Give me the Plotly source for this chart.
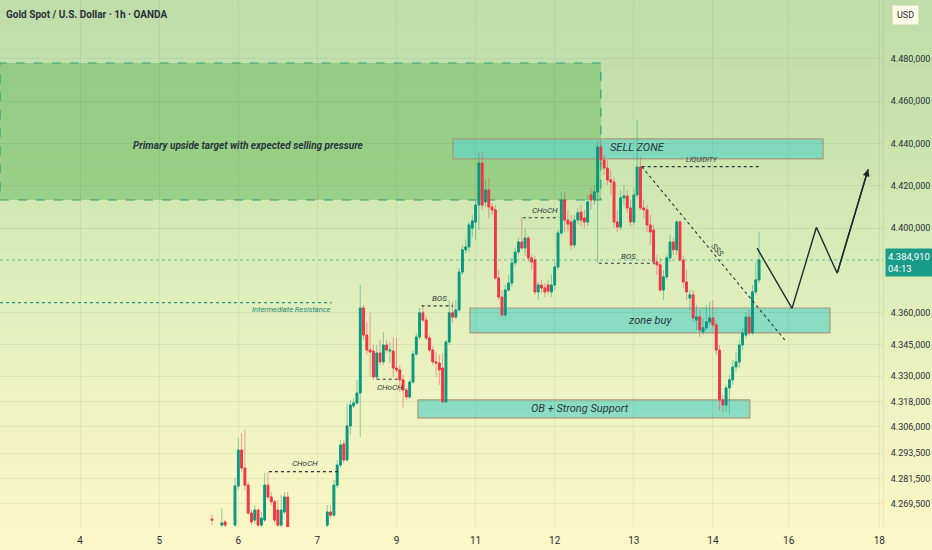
import plotly.graph_objects as go

# ---------------------------------------------------------
# data: XAU/USD 1h candles (hour index, prices)
# ---------------------------------------------------------
CANDLE_START = 40  # hour index of first visible candle (day "4" = hour 0)

opens = [
    4262.3, None, None, 4259.5, 4261.0, None, None, 4259.5, 4278.0, 4295.0,
    4286.5, 4278.4, 4265.2, 4261.9, 4266.6, 4259.5, 4261.9, 4278.4, 4272.8, 4270.5,
    4266.6, 4259.5, 4265.7, 4272.8, None, None, None, None, None, None,
    None, None, None, None, None, 4259.5, 4265.7, 4264.2, 4278.4, 4287.9,
    4297.9, 4290.3, 4306.4, 4315.9, 4317.3, 4322.0, 4362.2, 4349.4, 4342.3, 4341.8,
    4329.6, 4340.9, 4336.7, 4344.7, 4341.8, 4341.8, 4333.8, 4332.9, 4328.2, 4323.4,
    4320.1, 4327.2, 4340.4, 4348.5, 4359.9, 4356.5, 4348.0, 4342.3, 4336.7, 4336.2,
    4333.8, 4317.8, 4346.1, 4359.9, 4357.9, 4361.3, 4379.2, 4389.7, 4391.1, 4400.0,
    4402.9, 4410.9, 4430.8, 4412.4, 4418.0, 4410.0, 4408.6, 4376.4, 4367.4, 4358.9,
    4370.7, 4374.0, 4383.5, 4388.7, 4393.4, 4390.6, 4395.3, 4385.9, 4384.9, 4369.8,
    4373.1, 4371.7, 4373.1, 4369.8, 4373.1, 4381.6, 4397.7, 4413.3, 4403.8, 4402.9,
    4392.0, 4403.8, 4407.6, 4404.8, 4402.9, 4415.7, 4413.3, 4417.1, 4438.4, 4432.2,
    4428.4, 4422.8, 4421.8, 4402.9, 4400.5, 4414.3, 4415.2, 4409.5, 4402.9, 4415.7,
    4428.9, 4409.5, 4408.6, 4401.5, 4399.1, 4384.0, 4382.6, 4370.7, 4376.9, 4385.9,
    4393.4, 4389.7, 4402.9, 4384.9, 4374.5, 4366.9, 4368.4, 4356.5, 4358.0, 4350.9,
    4352.8, 4355.6, 4357.5, 4354.2, 4342.3, 4318.7, 4316.3, 4324.4, 4328.2, 4334.3,
    4336.7, 4344.7, 4349.4, 4357.9, 4350.4, 4369.8, 4375.5,
]
highs = [
    4264.7, None, None, 4267.6, 4261.9, None, None, 4281.8, 4300.7, 4303.1,
    4304.5, 4279.9, 4266.6, 4269.0, 4267.6, 4265.7, 4284.2, 4284.7, 4275.2, 4271.4,
    4271.4, 4273.7, 4275.2, 4275.2, None, None, None, None, None, None,
    None, None, None, None, None, 4269.0, 4269.0, 4280.8, 4290.3, 4299.8,
    4299.8, 4317.3, 4318.7, 4319.6, 4328.2, 4373.1, 4363.6, 4355.6, 4359.9, 4344.7,
    4344.7, 4347.1, 4350.9, 4347.1, 4346.2, 4348.5, 4348.0, 4335.2, 4330.5, 4324.4,
    4328.2, 4342.3, 4350.4, 4362.2, 4363.6, 4358.4, 4349.4, 4344.2, 4341.4, 4340.0,
    4340.9, 4347.1, 4366.0, 4365.1, 4366.0, 4381.1, 4392.0, 4394.4, 4402.9, 4406.2,
    4413.3, 4435.5, 4436.0, 4422.8, 4423.7, 4411.9, 4410.9, 4380.2, 4370.7, 4373.1,
    4377.8, 4385.9, 4390.6, 4395.3, 4404.8, 4400.0, 4396.3, 4387.3, 4386.8, 4374.5,
    4375.5, 4374.0, 4375.5, 4378.0, 4384.0, 4399.1, 4417.1, 4417.1, 4408.6, 4406.2,
    4406.2, 4409.5, 4410.9, 4408.6, 4415.7, 4419.0, 4420.4, 4440.7, 4441.7, 4434.6,
    4432.2, 4427.5, 4423.7, 4408.6, 4418.0, 4420.4, 4418.0, 4413.3, 4419.0, 4451.1,
    4433.6, 4413.3, 4410.9, 4406.2, 4401.5, 4387.3, 4385.9, 4380.2, 4387.3, 4396.7,
    4395.3, 4403.8, 4403.8, 4386.8, 4380.2, 4370.7, 4370.7, 4363.6, 4361.3, 4357.5,
    4363.6, 4365.1, 4366.0, 4355.6, 4344.7, 4321.1, 4326.1, 4330.5, 4337.6, 4341.4,
    4347.1, 4352.8, 4360.3, 4361.3, 4373.1, 4384.0, 4398.2,
]
lows = [
    4259.5, None, None, 4258.1, 4258.6, None, None, 4258.6, 4276.1, 4284.7,
    4276.1, 4264.2, 4259.5, 4260.0, 4258.6, 4258.6, 4261.0, 4271.4, 4269.0, 4260.5,
    4258.6, 4258.6, 4264.7, 4257.2, None, None, None, None, None, None,
    None, None, None, None, None, 4258.6, 4262.8, 4263.3, 4277.0, 4286.5,
    4288.9, 4289.4, 4302.1, 4314.9, 4316.3, 4301.2, 4347.1, 4340.0, 4329.6, 4328.2,
    4328.2, 4335.2, 4335.2, 4340.9, 4336.2, 4329.6, 4331.9, 4322.5, 4314.9, 4318.7,
    4319.2, 4326.3, 4339.5, 4347.6, 4355.6, 4347.1, 4341.4, 4335.2, 4329.6, 4325.8,
    4317.3, 4317.3, 4344.7, 4355.1, 4357.0, 4360.3, 4377.8, 4388.2, 4388.7, 4395.8,
    4394.4, 4399.1, 4408.6, 4410.0, 4404.8, 4406.2, 4375.5, 4366.0, 4357.9, 4357.9,
    4369.8, 4372.1, 4382.1, 4387.3, 4389.7, 4386.8, 4384.0, 4380.2, 4368.4, 4366.0,
    4369.3, 4367.4, 4368.4, 4367.4, 4370.7, 4380.2, 4396.7, 4398.2, 4398.2, 4389.7,
    4390.6, 4401.9, 4401.0, 4400.0, 4401.0, 4408.6, 4410.9, 4383.5, 4429.9, 4425.1,
    4420.4, 4415.7, 4400.0, 4398.2, 4399.1, 4410.9, 4407.2, 4401.0, 4401.5, 4414.3,
    4408.6, 4404.8, 4398.2, 4392.0, 4382.6, 4377.8, 4369.8, 4366.0, 4375.5, 4384.0,
    4387.3, 4387.3, 4384.0, 4371.7, 4366.0, 4361.3, 4355.6, 4351.8, 4348.5, 4349.4,
    4351.8, 4354.2, 4352.8, 4340.0, 4314.0, 4312.6, 4313.0, 4311.6, 4325.8, 4331.9,
    4333.8, 4342.3, 4348.0, 4349.0, 4349.4, 4368.4, 4374.0,
]
closes = [
    4261.9, None, None, 4260.5, 4259.5, None, None, 4278.0, 4295.0, 4286.5,
    4278.4, 4265.2, 4261.0, 4266.6, 4259.5, 4262.8, 4278.4, 4272.8, 4270.5, 4261.9,
    4259.5, 4266.6, 4272.8, 4258.6, None, None, None, None, None, None,
    None, None, None, None, None, 4265.7, 4264.2, 4278.4, 4287.9, 4297.4,
    4290.3, 4306.4, 4316.3, 4317.3, 4322.0, 4362.2, 4349.4, 4342.3, 4341.4, 4329.6,
    4340.9, 4336.7, 4344.7, 4342.3, 4342.3, 4333.8, 4332.9, 4328.2, 4323.4, 4320.1,
    4327.2, 4340.4, 4348.5, 4359.9, 4356.5, 4348.0, 4342.3, 4336.7, 4336.2, 4332.9,
    4317.8, 4346.1, 4359.9, 4357.9, 4361.3, 4379.2, 4389.7, 4391.1, 4401.5, 4403.4,
    4410.9, 4430.8, 4410.9, 4418.0, 4410.0, 4408.6, 4376.4, 4367.4, 4358.9, 4370.7,
    4374.0, 4383.5, 4388.7, 4393.4, 4390.6, 4395.3, 4385.9, 4384.0, 4369.8, 4373.1,
    4371.7, 4369.8, 4370.2, 4373.1, 4381.6, 4397.7, 4413.3, 4403.8, 4401.9, 4392.0,
    4403.8, 4407.2, 4403.8, 4402.9, 4412.4, 4413.3, 4417.1, 4438.4, 4432.2, 4428.4,
    4422.8, 4421.8, 4402.9, 4400.5, 4414.3, 4415.2, 4409.5, 4402.9, 4415.7, 4428.9,
    4409.5, 4408.6, 4401.5, 4398.2, 4384.0, 4382.6, 4370.7, 4376.9, 4385.9, 4393.4,
    4389.7, 4402.9, 4384.9, 4374.5, 4369.8, 4368.4, 4357.5, 4358.0, 4351.8, 4352.8,
    4355.6, 4357.5, 4354.2, 4342.3, 4318.7, 4316.3, 4324.4, 4328.2, 4334.3, 4336.7,
    4344.7, 4350.4, 4357.9, 4350.4, 4369.8, 4375.5, 4384.91,
]

LAST_PRICE = 4384.91
LAST_TIME = "04:13"

# x axis: day labels at hour positions
day_ticks = [0, 24, 48, 72, 96, 120, 144, 168, 192, 215, 242.5]
day_labels = ["4", "5", "6", "7", "9", "11", "12", "13", "14", "16", "18"]

# y axis price labels
price_ticks = [4480, 4460, 4440, 4420, 4400, 4360, 4345, 4330, 4318, 4306, 4293.5, 4281.5, 4269.5]
price_labels = ["4.480,000", "4.460,000", "4.440,000", "4.420,000", "4.400,000", "4.360,000",
                "4.345,000", "4.330,000", "4.318,000", "4.306,000", "4.293,500", "4.281,500",
                "4.269,500"]

# zones (hour from, hour to, price low, price high)
target_zone = (-24.3, 158.0, 4413.3, 4478.1)
sell_zone = (113.1, 225.4, 4432.7, 4442.2)
buy_zone = (118.3, 227.5, 4350.4, 4362.2)
ob_zone = (102.5, 203.2, 4310.2, 4318.7)
intermediate_res = 4364.7

# structure marks: (label, hour from, hour to, line price, label hour, label price)
structure = [
    ("CHoCH", 57.3, 78.3, 4284.8, 68.2, 4288.6),
    ("CHoCH", 90.0, 97.1, 4328.5, 94.0, 4324.8),
    ("BOS", 103.6, 113.2, 4363.2, 109.0, 4366.6),
    ("CHoCH", 134.3, 145.3, 4404.9, 141.0, 4408.3),
    ("BOS", 157.4, 174.4, 4383.4, 166.3, 4386.6),
]
liquidity = (170.4, 206.8, 4429.1)
sss_line_x = [170.4, 213.8]
sss_line_y = [4429.1, 4347.1]

# projected path
proj_x = [205.4, 216.0, 223.4, 229.7, 239.1]
proj_y = [4390.5, 4362.0, 4400.4, 4378.6, 4427.8]

# ---------------------------------------------------------
# style
# ---------------------------------------------------------
UP = "#089981"
DOWN = "#f23645"
UP_WICK = "rgba(8,153,129,0.45)"
DOWN_WICK = "rgba(242,54,69,0.45)"
ZONE_FILL = "rgba(100,212,196,0.72)"
ZONE_EDGE = "#a8987a"
TEXT = "#2b3640"
FONT = "Roboto, Liberation Sans, Arial, sans-serif"
W, H = 932, 550
M_R, M_B = 49, 23
BG_STOPS = [(0, (190, 221, 169)), (150, (201, 228, 174)), (275, (220, 237, 186)),
            (400, (238, 243, 193)), (550, (252, 247, 199))]

hours = list(range(CANDLE_START, CANDLE_START + len(opens)))
body_hi = [None if o is None else max(o, c) for o, c in zip(opens, closes)]
body_lo = [None if o is None else min(o, c) for o, c in zip(opens, closes)]

fig = go.Figure()

# wicks
fig.add_trace(go.Candlestick(
    x=hours, open=opens, high=highs, low=lows, close=closes,
    increasing=dict(line=dict(color=UP_WICK, width=1), fillcolor=UP_WICK),
    decreasing=dict(line=dict(color=DOWN_WICK, width=1), fillcolor=DOWN_WICK),
    whiskerwidth=0, hoverinfo="skip", showlegend=False))
# bodies
fig.add_trace(go.Candlestick(
    x=hours, open=opens, high=body_hi, low=body_lo, close=closes,
    increasing=dict(line=dict(color=UP, width=1), fillcolor=UP),
    decreasing=dict(line=dict(color=DOWN, width=1), fillcolor=DOWN),
    whiskerwidth=0, hoverinfo="skip", showlegend=False))

# projection path
fig.add_trace(go.Scatter(x=proj_x, y=proj_y, mode="lines",
                         line=dict(color="#1f2a30", width=1.4),
                         hoverinfo="skip", showlegend=False))
fig.add_annotation(x=proj_x[-1], y=proj_y[-1], ax=proj_x[-2], ay=proj_y[-2],
                   xref="x", yref="y", axref="x", ayref="y", text="",
                   showarrow=True, arrowhead=2, arrowsize=1, arrowwidth=1.4,
                   arrowcolor="#1f2a30", standoff=0)

# SSS dashed diagonal
fig.add_trace(go.Scatter(x=sss_line_x, y=sss_line_y, mode="lines",
                         line=dict(color="#2b3640", width=1.1, dash="dot"),
                         hoverinfo="skip", showlegend=False))

# background gradient (paper bands)
plot_h = H - M_B
plot_w = W - M_R


def bg_color(py):
    for (p0, c0), (p1, c1) in zip(BG_STOPS[:-1], BG_STOPS[1:]):
        if p0 <= py <= p1:
            t = (py - p0) / (p1 - p0)
            return "rgb(%d,%d,%d)" % tuple(round(a + (b - a) * t) for a, b in zip(c0, c1))
    return "rgb(%d,%d,%d)" % BG_STOPS[-1][1]


for i in range(0, H, 10):
    fig.add_shape(type="rect", xref="paper", yref="paper", layer="below",
                  x0=-0.01, x1=W / plot_w + 0.01,
                  y0=(plot_h - i - 10.5) / plot_h, y1=(plot_h - i) / plot_h,
                  fillcolor=bg_color(i + 5), line=dict(width=0))

# green target area
fig.add_shape(type="rect", x0=target_zone[0], x1=target_zone[1], y0=target_zone[2], y1=target_zone[3],
              fillcolor="rgba(60,170,60,0.36)", line=dict(color="#2e9e7e", width=1.2, dash="dash"),
              layer="below")

# boxes
for z in (sell_zone, buy_zone, ob_zone):
    fig.add_shape(type="rect", x0=z[0], x1=z[1], y0=z[2], y1=z[3],
                  fillcolor=ZONE_FILL, line=dict(color=ZONE_EDGE, width=1.2), layer="below")

# intermediate resistance line
fig.add_shape(type="line", x0=-24.3, x1=76.3, y0=intermediate_res, y1=intermediate_res,
              line=dict(color="#1f9a82", width=1.2, dash="dot"))
# current price line
fig.add_shape(type="line", xref="paper", x0=0, x1=1, y0=LAST_PRICE, y1=LAST_PRICE,
              line=dict(color="rgba(8,153,129,0.55)", width=1, dash="dot"))
# liquidity line
fig.add_shape(type="line", x0=liquidity[0], x1=liquidity[1], y0=liquidity[2], y1=liquidity[2],
              line=dict(color="#2b3640", width=1.1, dash="dot"))

# structure lines and labels
for lab, x0, x1, yl, xt, yt in structure:
    fig.add_shape(type="line", x0=x0, x1=x1, y0=yl, y1=yl,
                  line=dict(color="#2b3640", width=1.1, dash="dot"))
    fig.add_annotation(x=xt, y=yt, text="<i>%s</i>" % lab, showarrow=False,
                       font=dict(family=FONT, size=8, color=TEXT))


def label(x, y, text, size, color=TEXT, angle=0):
    fig.add_annotation(x=x, y=y, text=text, showarrow=False, textangle=angle,
                       font=dict(family=FONT, size=size, color=color))


label(51.0, 4439.3, "<b><i>Primary upside target with expected selling pressure</i></b>", 10)
label(169.2, 4437.9, "<i>SELL ZONE</i>", 11)
label(172.9, 4356.2, "<i>zone buy</i>", 11)
label(151.7, 4314.8, "<i>OB + Strong Support</i>", 11)
label(64.2, 4361.3, "<i>Intermediate Resistance</i>", 7.5, color="#1a8c76")
label(188.6, 4432.0, "<i>LIQUIDITY</i>", 7)
label(193.1, 4389.7, "<i>SSS</i>", 8, angle=50)

# header / axis badges
fig.add_annotation(xref="paper", yref="paper", x=0.005, y=(plot_h - 14) / plot_h,
                   xanchor="left", yanchor="middle", showarrow=False,
                   text="<b>Gold Spot / U.S. Dollar · 1h · OANDA</b>",
                   font=dict(family=FONT, size=10, color="#2a2e39"))
fig.add_annotation(xref="paper", yref="paper", x=906 / plot_w, y=(plot_h - 15) / plot_h,
                   xanchor="center", yanchor="middle", showarrow=False, text="USD",
                   bgcolor="#fdfbe8", bordercolor="#e4e2c8", borderwidth=1, borderpad=4,
                   font=dict(family=FONT, size=9, color="#2a2e39"))
fig.add_annotation(xref="paper", yref="y", x=1.002, y=LAST_PRICE - 1.2,
                   xanchor="left", yanchor="middle", showarrow=False, align="left",
                   text="%s<br>%s" % (f"{LAST_PRICE:,.3f}".replace(",", "X").replace(".", ",").replace("X", "."),
                                      LAST_TIME),
                   bgcolor="#1a9a88", borderpad=2,
                   font=dict(family=FONT, size=9.5, color="white"))

fig.update_layout(
    width=W, height=H,
    margin=dict(l=0, r=M_R, t=0, b=M_B),
    paper_bgcolor="#fcf7c6", plot_bgcolor="rgba(0,0,0,0)",
    boxgap=0.25, showlegend=False, hovermode=False,
    font=dict(family=FONT, color="#2a2e39"),
    xaxis=dict(range=[-24.3, 243.6], tickvals=day_ticks, ticktext=day_labels,
               showgrid=True, gridcolor="rgba(0,0,0,0.05)", zeroline=False,
               rangeslider=dict(visible=False), showline=False,
               tickfont=dict(size=10, color="#2a2e39"), ticklabelstandoff=6),
    yaxis=dict(range=[4258.6, 4507.9], side="right", tickvals=price_ticks, ticktext=price_labels,
               showgrid=True, gridcolor="rgba(0,0,0,0.05)", zeroline=False,
               showline=True, linecolor="rgba(0,0,0,0.06)",
               tickfont=dict(size=9, color="#2a2e39"), ticklabelstandoff=5),
)

fig.write_html("out.html", config={"displayModeBar": False},
               post_script="document.body.style.margin='0';document.body.style.overflow='hidden';")
